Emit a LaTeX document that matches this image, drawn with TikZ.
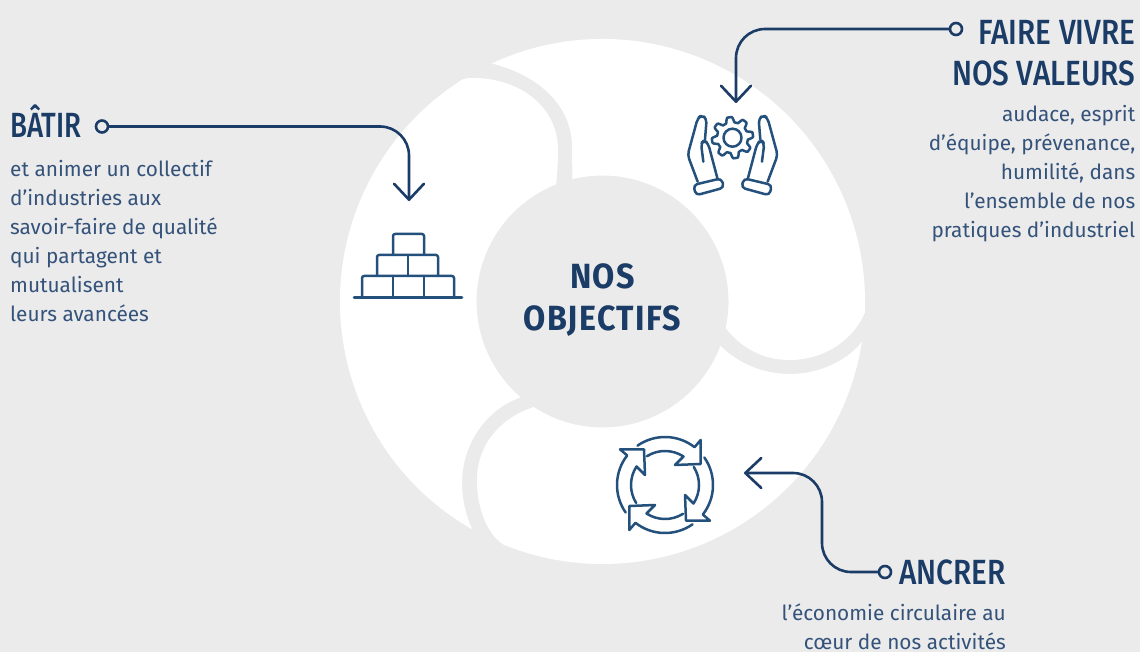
\documentclass[tikz,border=0pt]{standalone}
\usepackage{fontspec}
\usetikzlibrary{arrows.meta,calc}
\setmainfont{Fira Sans}
\newfontfamily\headfont[FakeStretch=0.85]{Fira Sans Medium}
\newfontfamily\narrowheadfont[FakeStretch=0.79]{Fira Sans Medium}
\newfontfamily\titlefont[FakeStretch=0.92,LetterSpace=4]{Fira Sans Bold}
\newfontfamily\bodyfont{Fira Sans}
\definecolor{navy}{HTML}{1A3C66}
\definecolor{bodyink}{HTML}{34527A}
\definecolor{iconink}{HTML}{24507C}
\definecolor{paper}{HTML}{EBEBEB}
\tikzset{
  wedgefill/.style={fill=white,draw=none},
  conn/.style={draw=navy,line width=2.6pt,rounded corners=29pt,line cap=round,
    -{Straight Barb[length=16pt,width=30pt,line width=2.6pt,round]}},
  portdot/.style={circle,draw=navy,line width=2.6pt,minimum size=12pt,inner sep=0pt},
  headtext/.style={text=navy,inner sep=0pt,font=\headfont\fontsize{35}{41}\selectfont},
  bodytext/.style={text=bodyink,inner sep=0pt,font=\bodyfont\fontsize{20.8}{29}\selectfont},
  titletext/.style={text=navy,inner sep=0pt,align=center,font=\titlefont\fontsize{35}{42}\selectfont},
  icon/.style={draw=iconink,line width=2.5pt,line join=round,line cap=round,fill=none}
}
\begin{document}
\begin{tikzpicture}[x=1pt,y=-1pt]
\useasboundingbox (0,0) rectangle (1140,652);
\fill[paper] (0,0) rectangle (1140,652);
\coordinate (c) at (602.5,301.5);
% left piece
\fill[wedgefill] ($(c)+(240.2:262.5pt)$) arc[start angle=240.2,end angle=122.3,radius=262.5pt]
  .. controls (466,78) and (470,78) .. (473,78)
  .. controls (520,78) and (558,107) .. (558,150)
  .. controls (558,165) and (557,175) .. ($(c)+(111.6:126pt)$)
  arc[start angle=111.6,end angle=229.5,radius=126pt]
  .. controls (485,410) and (462,445) .. (462,483)
  .. controls (462,500) and (466,515) .. cycle;
% upper right piece
\fill[wedgefill] ($(c)+(114.95:262.5pt)$) arc[start angle=114.95,end angle=-2.5,radius=262.5pt]
  .. controls (852,342) and (822,360) .. (790,360)
  .. controls (762,360) and (740,347) .. ($(c)+(-12.1:126pt)$)
  arc[start angle=-12.1,end angle=103.8,radius=126pt]
  -- (572,147)
  .. controls (572,105) and (538,75) .. cycle;
% bottom piece
\fill[wedgefill] ($(c)+(-8.84:262.5pt)$) arc[start angle=-8.84,end angle=-112.1,radius=262.5pt]
  .. controls (488,535) and (477,510) .. (477,480)
  .. controls (477,445) and (500,418) .. ($(c)+(236.9:126pt)$)
  arc[start angle=236.9,end angle=339.4,radius=126pt]
  .. controls (740,365) and (765,374) .. (790,374)
  .. controls (820,374) and (848,360) .. cycle;

% bricks icon
\begin{scope}[icon]
  \draw (354,297.3) -- (462,297.3);
  \draw[rounded corners=2pt] (362,297) -- (362,276) -- (454,276) -- (454,297);
  \draw (393,276) -- (393,297) (424,276) -- (424,297);
  \draw[rounded corners=2pt] (377,276) -- (377,255) -- (438,255) -- (438,276);
  \draw (408,255) -- (408,276);
  \draw[rounded corners=2pt] (393,255) -- (393,234) -- (424,234) -- (424,255);
\end{scope}

% hands and gear icon
\begin{scope}[icon]
  \draw[shift={(732.5pt,-137.7pt)}] plot[domain=0:360,samples=145,smooth]
    (\x:{18+2.6*max(-1,min(1,1.8*sin(8*\x+22.5)))*1pt});
  \draw[shift={(732.5pt,-137.7pt)}] (0,0) circle[radius=9pt];
\end{scope}
\foreach \mirror/\off in {1/675,-1/790.3}{
\begin{scope}[icon,shift={(\off pt,-100pt)},x=\mirror*0.3333pt,y=-0.3333pt]
  \draw[rounded corners=4pt] (68,245) -- (38,165) -- (68,55) -- (80,45) -- (95,56) -- (90,118);
  \draw[rounded corners=4pt] (85,185) -- (78,130) -- (88,120) -- (100,132) -- (128,238);
  \draw[rounded corners=4pt] (55,255) -- (139,235) -- (147,263) -- (63,286) -- cycle;
\end{scope}}

% cycle icon
\coordinate (cyc) at (665,485);
\foreach \k in {0,1,2,3}{
\begin{scope}[icon,shift={(cyc)},rotate=-90*\k]
  \draw (125:48pt) arc[start angle=125,end angle=52,radius=48pt]
    -- (35.7pt,45pt) -- (35.7pt,21pt) -- (10pt,20pt) -- (57:34pt)
    arc[start angle=57,end angle=122,radius=34pt];
\end{scope}}

% centre title
\node[titletext,anchor=center] (title) at (602.5,300) {NOS\\OBJECTIFS};

% BATIR
\node[headtext,anchor=base west,font=\narrowheadfont\fontsize{35}{41}\selectfont] (batirhead) at (10,138) {BÂTIR};
\node[bodytext,align=left,anchor=north west] (batirbody) at (10,160) {et animer un collectif\\d’industries aux\\savoir-faire de qualité\\qui partagent et\\mutualisent\\leurs avancées};
\node[portdot] (batirdot) at (102,126.5) {};
\coordinate (batirtip) at (409,201);
\draw[conn] (batirdot.east) -| (batirtip);

% FAIRE VIVRE
\node[headtext,align=right,anchor=north east] (fairehead) at (1135.5,20) {FAIRE VIVRE\\NOS VALEURS};
\node[bodytext,align=right,anchor=north east] (fairebody) at (1135.5,105.5) {audace, esprit\\d’équipe, prévenance,\\humilité, dans\\l’ensemble de nos\\pratiques d’industriel};
\node[portdot] (fairedot) at (956,29) {};
\coordinate (fairetip) at (736,103);
\draw[conn] (fairedot.west) -| (fairetip);

% ANCRER
\node[headtext,anchor=base east] (ancrerhead) at (1006,584) {ANCRER};
\node[bodytext,align=right,anchor=north east] (ancrerbody) at (1006,603.5) {l’économie circulaire au\\cœur de nos activités};
\node[portdot] (ancrerdot) at (885,572) {};
\coordinate (ancrerbend) at (822,473);
\coordinate (ancrertip) at (744,473);
\draw[conn] (ancrerdot.west) -| (ancrerbend) -- (ancrertip);
\end{tikzpicture}
\end{document}
